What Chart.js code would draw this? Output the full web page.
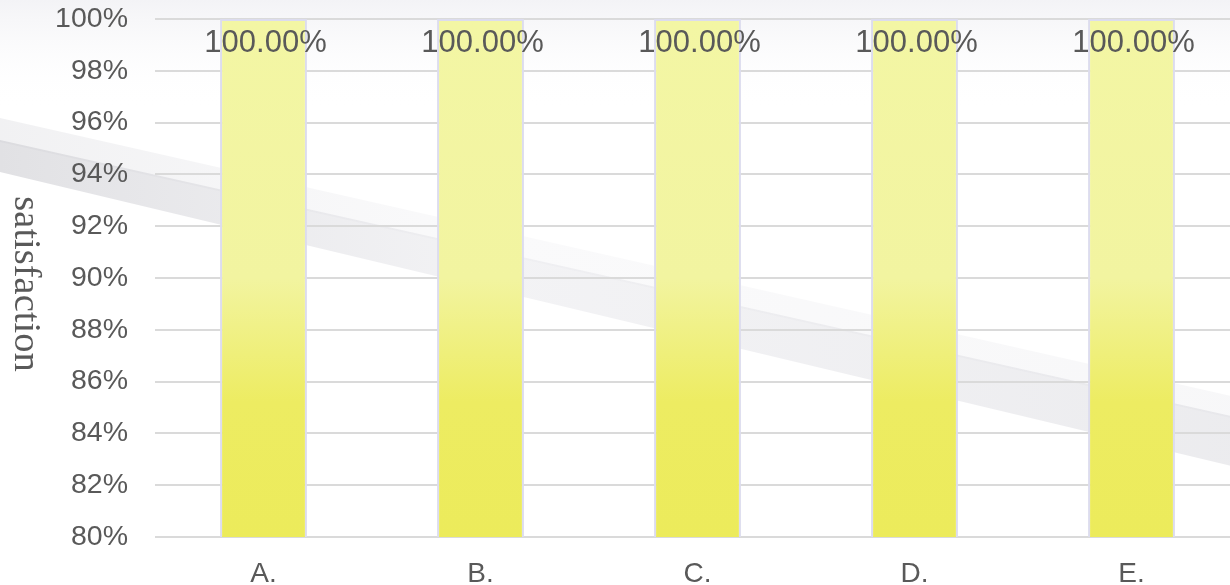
<!DOCTYPE html>
<html>
<head>
<meta charset="utf-8">
<script src="https://cdn.jsdelivr.net/npm/chart.js@4.4.0/dist/chart.umd.min.js"></script>
<style>
  html, body { margin: 0; padding: 0; background: #fff; overflow: hidden; }
  #wrap { width: 1230px; height: 585px; overflow: hidden; }
  #wrap canvas { display: block; }
</style>
</head>
<body>
<div id="wrap"><canvas id="chart" width="1240" height="585"></canvas></div>
<script>
const categories = ["A.", "B.", "C.", "D.", "E."];
const satisfaction = [100, 100, 100, 100, 100];
const yMin = 80;
const yMax = 100;
const yStep = 2;
const axisTitle = "satisfaction";

const textColor = "#595959";

// light grey swoosh behind the plot, plus a faint grey wash at the top
const backdrop = {
  id: "backdrop",
  beforeDraw(chart) {
    const c = chart.ctx;
    const w = chart.width;
    c.save();
    c.fillStyle = "#ffffff";
    c.fillRect(0, 0, w, chart.height);
    const top = c.createLinearGradient(0, 0, 0, 110);
    top.addColorStop(0, "#f3f3f6");
    top.addColorStop(1, "rgba(255,255,255,0)");
    c.fillStyle = top;
    c.fillRect(0, 0, w, 110);

    // soft halo above the band
    const halo = c.createLinearGradient(0, 0, w, 0);
    halo.addColorStop(0, "rgba(215,215,220,0.35)");
    halo.addColorStop(0.4, "rgba(230,230,235,0.2)");
    halo.addColorStop(1, "rgba(225,225,230,0.25)");
    c.fillStyle = halo;
    c.beginPath();
    c.moveTo(0, 118);
    c.lineTo(w, 398);
    c.lineTo(w, 420);
    c.lineTo(0, 142);
    c.closePath();
    c.fill();

    const g = c.createLinearGradient(0, 0, w, 0);
    g.addColorStop(0, "rgba(205,205,210,0.6)");
    g.addColorStop(0.4, "rgba(220,220,226,0.35)");
    g.addColorStop(1, "rgba(212,212,218,0.45)");
    c.fillStyle = g;
    c.beginPath();
    c.moveTo(0, 140);
    c.lineTo(w, 418);
    c.lineTo(w, 468);
    c.lineTo(0, 172);
    c.closePath();
    c.fill();
    c.restore();
  }
};

// value labels near the top of each bar
const barLabels = {
  id: "barLabels",
  afterDatasetsDraw(chart) {
    const c = chart.ctx;
    c.save();
    c.font = "31px 'Liberation Sans', Arial, sans-serif";
    c.fillStyle = textColor;
    c.textAlign = "center";
    c.textBaseline = "middle";
    chart.getDatasetMeta(0).data.forEach((bar, i) => {
      const v = chart.data.datasets[0].data[i];
      c.fillText(v.toFixed(2) + "%", bar.x + 2, bar.y + 24);
    });
    c.restore();
  }
};

// y axis title, reading top to bottom
const yTitle = {
  id: "yTitle",
  afterDraw(chart) {
    const c = chart.ctx;
    const area = chart.chartArea;
    c.save();
    c.translate(25, (area.top + area.bottom) / 2 + 6);
    c.rotate(Math.PI / 2);
    c.font = "38.5px 'Liberation Serif', 'Times New Roman', serif";
    c.fillStyle = textColor;
    c.textAlign = "center";
    c.textBaseline = "middle";
    c.fillText(axisTitle, 0, 0);
    c.restore();
  }
};

const ctx = document.getElementById("chart").getContext("2d");
new Chart(ctx, {
  type: "bar",
  data: {
    labels: categories,
    datasets: [
      {
        data: satisfaction,
        backgroundColor: (context) => {
          const area = context.chart.chartArea;
          if (!area) return "#eeec60";
          const g = context.chart.ctx.createLinearGradient(0, area.top, 0, area.bottom);
          g.addColorStop(0, "#f3f6a4");
          g.addColorStop(0.5, "#f2f4a0");
          g.addColorStop(0.74, "#edec62");
          g.addColorStop(1, "#eceb5b");
          return g;
        },
        borderColor: "#dcdcee",
        borderWidth: 2,
        barPercentage: 0.4,
        categoryPercentage: 1,
      },
    ],
  },
  options: {
    responsive: false,
    animation: false,
    devicePixelRatio: 1,
    layout: { padding: { top: 19, right: 0, bottom: 0, left: 0 } },
    plugins: {
      legend: { display: false },
      tooltip: { enabled: false },
    },
    scales: {
      x: {
        grid: { display: false },
        border: { display: false },
        ticks: {
          color: textColor,
          font: { family: "'Liberation Sans', Arial, sans-serif", size: 28 },
          padding: 12,
        },
        afterFit: (scale) => {
          scale.height = 48;
          scale.paddingLeft = 0;
          scale.paddingRight = 0;
        },
      },
      y: {
        min: yMin,
        max: yMax,
        border: { display: false },
        grid: { color: "#dadada", lineWidth: 2, drawTicks: false },
        ticks: {
          stepSize: yStep,
          color: textColor,
          font: { family: "'Liberation Sans', Arial, sans-serif", size: 28.5 },
          padding: 27,
          callback: (v) => v + "%",
        },
        afterFit: (scale) => {
          scale.width = 155;
          scale.paddingTop = 0;
          scale.paddingBottom = 0;
        },
      },
    },
  },
  plugins: [backdrop, barLabels, yTitle],
});
</script>
</body>
</html>
